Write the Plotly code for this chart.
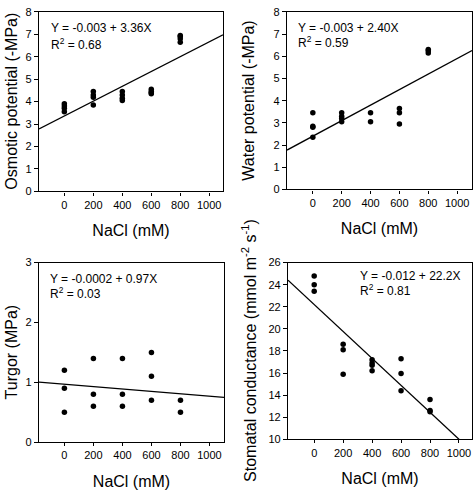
import plotly.graph_objects as go

W, H = 474, 496

# ---------------- data ----------------
x_ticks = [0, 200, 400, 600, 800, 1000]

osm_x = [0, 0, 0, 0, 200, 200, 200, 200, 400, 400, 400, 400, 600, 600, 600, 600, 800, 800, 800, 800]
osm_y = [3.55, 3.7, 3.8, 3.9, 3.85, 4.2, 4.3, 4.45, 4.05, 4.15, 4.3, 4.45, 4.35, 4.4, 4.45, 4.55, 6.65, 6.8, 6.9, 6.95]
osm_fit = (3.36, 0.0033)  # intercept, slope

wat_x = [0, 0, 0, 0, 200, 200, 200, 200, 400, 400, 600, 600, 600, 800, 800, 800]
wat_y = [2.35, 2.8, 2.85, 3.45, 3.05, 3.2, 3.3, 3.45, 3.05, 3.45, 2.95, 3.45, 3.65, 6.15, 6.25, 6.3]
wat_fit = (2.40, 0.0035)

tur_x = [0, 0, 0, 200, 200, 200, 400, 400, 400, 600, 600, 600, 800, 800]
tur_y = [0.5, 0.9, 1.2, 0.6, 0.8, 1.4, 0.6, 0.8, 1.4, 0.7, 1.1, 1.5, 0.5, 0.7]
tur_fit = (0.97, -0.0002)

sto_x = [0, 0, 0, 200, 200, 200, 400, 400, 400, 400, 600, 600, 600, 800, 800, 800]
sto_y = [23.4, 24.0, 24.8, 15.9, 18.1, 18.6, 16.2, 16.7, 16.9, 17.2, 14.4, 15.95, 17.3, 12.5, 12.6, 13.6]
sto_fit = (22.2, -0.0122)

# ---------------- layout helpers (pixels -> paper) ----------------
def px_x(p):
    return min(max(p / W, 0), 1)

def px_y(p):
    return min(max(1 - p / H, 0), 1)

panels = [
    dict(xs=osm_x, ys=osm_y, fit=osm_fit, xr=[-175, 1095], yr=[0, 8], dt=1,
         dom_x=(39, 223), dom_y=(6, 190), ytitle="Osmotic potential (-MPa)", yt_x=12,
         eq="Y = -0.003 + 3.36X", r2="R<sup>2</sup> = 0.68", ann=(49, 23, 39)),
    dict(xs=wat_x, ys=wat_y, fit=wat_fit, xr=[-179, 1103], yr=[0, 8], dt=1,
         dom_x=(287, 472), dom_y=(6, 188), ytitle="Water potential (-MPa)", yt_x=249,
         eq="Y = -0.003 + 2.40X", r2="R<sup>2</sup> = 0.59", ann=(296, 23, 37)),
    dict(xs=tur_x, ys=tur_y, fit=tur_fit, xr=[-175, 1100], yr=[0, 3], dt=1,
         dom_x=(39, 224), dom_y=(263, 447), ytitle="Turgor (MPa)", yt_x=11,
         eq="Y = -0.0002 + 0.97X", r2="R<sup>2</sup> = 0.03", ann=(48, 280, 294)),
    dict(xs=sto_x, ys=sto_y, fit=sto_fit, xr=[-181, 1090], yr=[10, 26], dt=2,
         dom_x=(288, 472), dom_y=(263, 444),
         ytitle="Stomatal conductance (mmol m<sup>-2</sup> s<sup>-1</sup>)", yt_x=249,
         eq="Y = -0.012 + 22.2X", r2="R<sup>2</sup> = 0.81", ann=(358, 277, 291)),
]

fig = go.Figure()
font_family = "Liberation Sans, Arial, sans-serif"
annotations = []

for i, p in enumerate(panels):
    suffix = "" if i == 0 else str(i + 1)
    xa, ya = "x" + suffix, "y" + suffix
    fig.add_trace(go.Scatter(x=p["xs"], y=p["ys"], mode="markers", xaxis=xa, yaxis=ya,
                             marker=dict(color="black", size=5.5), showlegend=False,
                             cliponaxis=False))
    b0, b1 = p["fit"]
    lx = [p["xr"][0], p["xr"][1]]
    ly = [b0 + b1 * v for v in lx]
    fig.add_trace(go.Scatter(x=lx, y=ly, mode="lines", xaxis=xa, yaxis=ya,
                             line=dict(color="black", width=1.3), showlegend=False))
    common = dict(showline=True, linecolor="black", linewidth=1.2, mirror=True,
                  ticks="outside", ticklen=3, tickwidth=1, tickcolor="black",
                  showgrid=False, zeroline=False,
                  tickfont=dict(size=11, color="black", family=font_family))
    fig.layout["xaxis" + suffix] = dict(
        common, domain=[px_x(p["dom_x"][0]), px_x(p["dom_x"][1])], range=p["xr"],
        tickvals=x_ticks, anchor=ya,
        title=dict(text="NaCl (mM)", font=dict(size=16, color="black", family=font_family),
                   standoff=15))
    fig.layout["yaxis" + suffix] = dict(
        common, domain=[px_y(p["dom_y"][1]), px_y(p["dom_y"][0])], range=p["yr"],
        dtick=p["dt"], tick0=p["yr"][0], anchor=xa, ticklen=4)
    # y-axis title, placed as rotated text beside the axis
    annotations.append(dict(text=p["ytitle"], xref="paper", yref="paper",
                            x=px_x(p["yt_x"]), y=px_y((p["dom_y"][0] + p["dom_y"][1]) / 2),
                            xanchor="center", yanchor="middle", textangle=-90, showarrow=False,
                            font=dict(size=16, color="black", family=font_family)))
    ax, l1, l2 = p["ann"]
    for txt, yy in ((p["eq"], l1), (p["r2"], l2)):
        annotations.append(dict(text=txt, xref="paper", yref="paper", x=px_x(ax), y=px_y(yy),
                                xanchor="left", yanchor="middle", showarrow=False,
                                font=dict(size=12, color="black", family=font_family)))

fig.update_layout(width=W, height=H, margin=dict(l=0, r=0, t=0, b=0),
                  paper_bgcolor="white", plot_bgcolor="white",
                  annotations=annotations, font=dict(family=font_family, color="black"))

# remove the page's default body margin so the figure sits at the window's corner
fig.write_html("out.html", config={"displayModeBar": False},
               post_script="document.body.style.margin='0';")
